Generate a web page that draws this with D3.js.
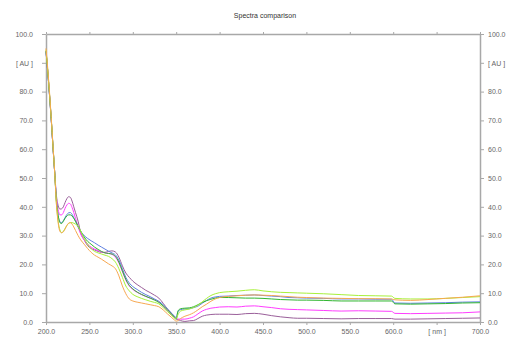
<!DOCTYPE html>
<html>
<head>
<meta charset="utf-8">
<script src="https://cdn.jsdelivr.net/npm/d3@7"></script>
<style>
  html, body { margin: 0; padding: 0; background: #fff; }
  svg { display: block; font-family: "Liberation Sans", Arial, sans-serif; }
</style>
</head>
<body>
<svg id="chart" width="510" height="338"></svg>
<script>
// Wavelength grid (nm) shared by all spectra
const wavelengths = [200,202,204,206,208,210,212,214,216,218,220,222,224,226,228,230,232,234,237,240,244,248,252,256,260,264,268,272,276,280,284,288,292,296,300,305,310,315,320,325,330,335,340,345,348,350,352,355,360,365,370,375,380,385,390,395,400,410,420,430,440,450,460,470,480,490,500,520,540,560,580,598,602,620,640,660,680,700];

// Absorbance (AU) per spectrum
const mauve = [94,87,79,70.5,61,52,44,40.5,39.2,39.3,40,41.5,42.8,43.5,43.3,42,40,38,35,31,28.5,26.5,25.5,25,24.5,24.2,24.2,24.5,24.7,24.3,22.5,19.5,17,15.5,14.2,13,12,11,10.2,9.3,8.3,6.5,4.5,2.8,1.8,1.2,0.8,0.5,0.2,0.4,0.5,1.2,2,2.4,2.6,2.7,2.7,2.7,2.6,2.9,3,2.7,2.2,1.8,1.5,1.3,1.3,1.2,1.1,1.2,1.2,1.2,1,1,1.1,1.2,1.3,1.4];
const magenta = [94,87,79,70.5,61,52,43,39,37.2,37.2,38,39.5,40.6,41.2,41,39.8,38,36,33,30.5,28.5,27,26,25.3,24.8,24.3,24,23.8,23.5,22.5,20.5,17.5,14.5,12.5,11.3,10.3,9.5,8.9,8.3,7.8,7,5.5,3.8,2.4,1.6,1.2,1,1,1,1.3,1.8,2.8,3.8,4.4,4.8,5,5.2,5.3,5.2,5.5,5.6,5.3,5,4.6,4.4,4.3,4.2,4,3.8,3.9,3.8,3.7,3,2.9,3,3.1,3.2,3.5];
const blue = [94,87,79,70.5,61,52,42,37,34.8,34.5,35.2,36.3,37.3,37.9,38,37.4,36.2,35,33,31.5,30,29,28.2,27.5,26.7,26,25.3,24.6,24,23.3,21.5,18.5,15.5,13.5,12.3,11.3,10.3,9.5,8.8,8,7.2,6,4.5,3,2,1.5,3.5,4.3,4.5,4.6,5,5.5,6.5,7.5,8.3,8.7,8.9,9,9.2,9.3,9.4,9.2,9,8.8,8.5,8.4,8.3,8.2,8,8,7.9,7.9,6.6,6.5,6.6,6.7,6.9,7];
const green = [94,87,79,70.5,61,52,42,37,34.5,34.2,35,36,36.8,37.2,37.2,36.8,36,35,33.2,31.5,29.5,28,27,26,25.2,24.5,24,23.8,23.6,22.8,20.8,17.8,14.8,12.7,11.5,10.4,9.6,8.9,8.3,7.6,6.8,5.6,4.2,2.6,1.6,0.9,3.8,4.6,4.8,4.9,5.3,6,6.8,7.4,7.9,8.3,8.5,8.5,8.4,8.3,8.3,8.2,8,7.8,7.7,7.6,7.6,7.5,7.3,7.3,7.3,7.3,6.3,6.2,6.3,6.4,6.6,6.7];
const lime = [94.5,87.5,79.5,71,61.5,52,41,35,32,31,31.5,32.5,33.5,34.2,34.5,34.5,34.3,34,33.2,31.5,29,27,25.5,24.5,24,23.6,23.2,22.8,22,20.8,18.5,15.5,12.5,10.8,9.6,8.8,8.2,7.7,7.2,6.8,6.3,5,3.6,2.2,1.4,1.2,2.5,3.8,4.2,4.5,5,5.8,7,8.2,9.2,9.8,10.2,10.5,10.7,11,11.2,10.8,10.5,10.3,10.2,10.1,10,9.8,9.5,9.2,9.1,9,8.2,8,8,8.2,8.5,8.8];
const orange = [95,88,80,71,61.5,52,41,34.5,31.5,31,31.3,32.3,33.5,34.3,34.5,34,33,31.8,30,28.5,27,25.5,24.2,23.2,22.5,21.8,21,20.2,19.5,18.5,16,12.5,9.8,8,7.3,6.9,6.6,6.3,6,5.7,5.3,4.2,2.8,1.5,0.7,0.3,0.5,1.2,2,2.5,3.2,4.2,5.3,6.2,7.2,8,8.5,8.9,9.1,9.3,9.4,9.3,9.2,9,8.8,8.6,8.5,8.3,8.2,8.1,8.1,8,7.7,7.5,7.8,8.2,8.6,9.1];

const seriesValues = [mauve, magenta, blue, green, lime, orange];
const seriesColors = ["#9a5f9a", "#ff3cff", "#5f80e0", "#2fb52f", "#a8f03a", "#f7a850"];

// Axis tick labels
const xTicks = [200,250,300,350,400,450,500,550,600,650,700];
const xTickLabels = ["200.0","250.0","300.0","350.0","400.0","450.0","500.0","550.0","600.0","[ nm ]","700.0"];
const yTicks = [0,10,20,30,40,50,60,70,80,90,100];
const yTickLabels = ["0.0","10.0","20.0","30.0","40.0","50.0","60.0","70.0","80.0","[ AU ]","100.0"];

const svg = d3.select("#chart");
const plot = { left: 46, right: 480, top: 34, bottom: 322 };

const x = d3.scaleLinear().domain([200, 700]).range([plot.left, plot.right]);
const y = d3.scaleLinear().domain([0, 100]).range([plot.bottom, plot.top]);

const axisColor = "#a8a8a8";
const labelColor = "#666";

svg.append("text")
  .attr("x", 265).attr("y", 18)
  .attr("text-anchor", "middle")
  .attr("font-size", 7)
  .attr("fill", "#333")
  .text("Spectra comparison");

function styleAxis(g) {
  g.selectAll(".domain").attr("stroke", axisColor).attr("stroke-width", 1.5);
  g.selectAll(".tick line").attr("stroke", axisColor);
  g.selectAll(".tick text").attr("fill", labelColor).attr("font-size", 7)
    .attr("font-family", "Liberation Sans, Arial, sans-serif");
}

// Bottom axis with labels
svg.append("g")
  .attr("transform", `translate(0,${plot.bottom})`)
  .call(d3.axisBottom(x).tickValues(xTicks).tickSize(3).tickSizeOuter(0)
    .tickFormat((d, i) => xTickLabels[i]).tickPadding(4))
  .call(styleAxis);

// Top axis, ticks only
svg.append("g")
  .attr("transform", `translate(0,${plot.top})`)
  .call(d3.axisTop(x).tickValues(xTicks).tickSize(2).tickSizeOuter(0).tickFormat(""))
  .call(styleAxis);

// Left axis
svg.append("g")
  .attr("transform", `translate(${plot.left},0)`)
  .call(d3.axisLeft(y).tickValues(yTicks).tickSize(4).tickSizeOuter(0)
    .tickFormat((d, i) => yTickLabels[i]).tickPadding(9))
  .call(styleAxis);

// Right axis
svg.append("g")
  .attr("transform", `translate(${plot.right},0)`)
  .call(d3.axisRight(y).tickValues(yTicks).tickSize(4).tickSizeOuter(0)
    .tickFormat((d, i) => yTickLabels[i]).tickPadding(4))
  .call(styleAxis);

// Spectra
const line = d3.line()
  .x((d, i) => x(wavelengths[i]))
  .y(d => y(d))
  .curve(d3.curveMonotoneX);

svg.append("g")
  .selectAll("path")
  .data(seriesValues)
  .join("path")
  .attr("d", d => line(d))
  .attr("fill", "none")
  .attr("stroke", (d, i) => seriesColors[i])
  .attr("stroke-width", 1)
  .attr("stroke-linejoin", "round");
</script>
</body>
</html>
